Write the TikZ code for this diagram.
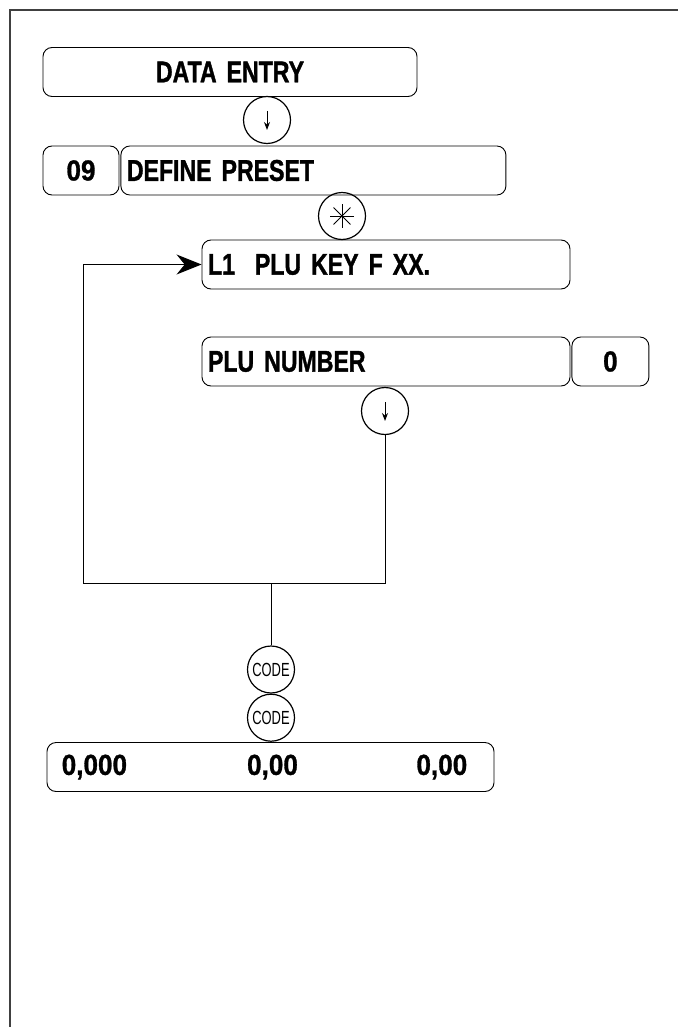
\documentclass[tikz,border=0pt]{standalone}
\usepackage{fontspec}
\newfontfamily\lcdfont[FakeStretch=0.77, BoldFeatures={FakeBold=1.2}]{Liberation Sans}
\newfontfamily\numfont[FakeStretch=0.9, BoldFeatures={FakeBold=1}]{Liberation Sans}
\newfontfamily\capfont[FakeStretch=0.68]{Liberation Sans}
\usetikzlibrary{arrows.meta, positioning, calc}
\tikzset{
  scr/.style  = {rectangle, draw, line width=0.9pt, rounded corners=9pt,
                 minimum height=49pt, text width=#1, inner xsep=6pt,
                 inner ysep=0pt, align=left,
                 font=\lcdfont\bfseries\fontsize{30}{32}\selectfont},
  scr/.default = 100pt,
  numbox/.style = {rectangle, draw, line width=0.9pt, rounded corners=9pt,
                 minimum height=49pt, minimum width=#1, inner sep=0pt,
                 align=center,
                 font=\numfont\bfseries\fontsize{29}{32}\selectfont},
  val/.style  = {inner sep=0pt,
                 font=\numfont\bfseries\fontsize{29}{32}\selectfont},
  keyc/.style = {circle, draw, line width=1.2pt, minimum size=47pt,
                 inner sep=0pt,
                 font=\capfont\fontsize{19}{20}\selectfont},
  link/.style = {line width=1pt},
}

\begin{document}
\begin{tikzpicture}[x=1pt, y=-1pt]
  \useasboundingbox (0,0) rectangle (678,1027);
  \draw[line width=1.3pt, black!75] (10,1027) -- (10,10) -- (678,10);

  \node[scr=362pt, align=center] (entry) at (230,72) {DATA ENTRY};
  \node[keyc] (dn1) at (267,120) {};

  \node[numbox=76pt] (menu) at (81,170.5) {09};
  \node[scr=373pt, right=1pt of menu] (preset) {DEFINE PRESET};
  \node[keyc] (star) at (342,216) {};

  \node[scr=356pt] (plukey) at (386,264.5) {L1\ \ PLU KEY F XX.};

  \node[scr=356pt] (plunum) at (386,361.5) {PLU NUMBER};
  \node[numbox=77pt, right=1pt of plunum] (zero) {0};
  \node[keyc] (dn2) at (385,411) {};

  \node[keyc] (code1) at (271,669.5) {CODE};
  \node[keyc, below=0pt of code1] (code2) {CODE};

  \node[scr=435pt] (total) at (270.5,767) {};
  \node[val, anchor=west] (qty)   at ([xshift=15pt]total.west) {0,000};
  \node[val]              (price) at ([xshift=2pt]total.center) {0,00};
  \node[val, anchor=east] (amt)   at ([xshift=-27pt]total.east) {0,00};

  %% Key symbols
  \foreach \k in {dn1,dn2}
    \draw[-{Stealth[length=8pt,width=6pt]}, line width=1pt]
      ([yshift=9pt]\k.center) -- ([yshift=-10pt]\k.center);
  \foreach \a in {0,45,90,135}
    \draw[line width=0.8pt]
      ($(star.center)+(\a:12pt)$) -- ($(star.center)+(\a+180:12pt)$);

  %% Loop back to next line
  \coordinate (back)  at (83,583);
  \coordinate (merge) at (271,583);
  \draw[link, -{Stealth[length=25pt,width=20pt]}]
    (dn2.south) |- (back) |- (plukey.west);
  \draw[link] (merge) -- (code1.north);

\end{tikzpicture}
\end{document}
